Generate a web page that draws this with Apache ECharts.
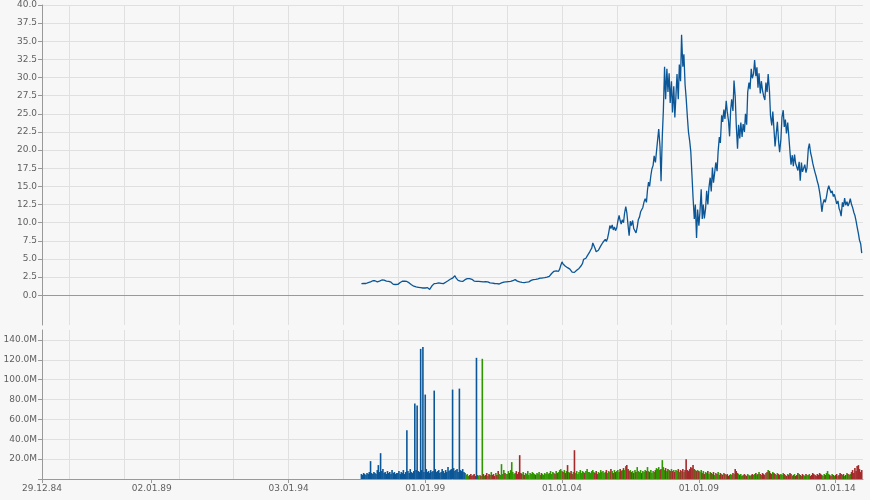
<!DOCTYPE html>
<html><head><meta charset="utf-8">
<script src="https://cdn.jsdelivr.net/npm/echarts@6/dist/echarts.min.js"></script>
<style>html,body{margin:0;padding:0;background:#f7f7f7}#c{width:870px;height:500px}</style>
</head><body><div id="c"></div>
<script>
// Semi-monthly samples (1st and 15th of each month), Sep 1996 .. Dec 2014
const firstYear = 1996, firstMonth = 9;
const priceValues = [
// 1996 (Sep-Dec)
1.6,1.6,1.62,1.6,1.62,1.6,1.75,1.8,
// 1997
1.85,1.9,2.0,2.05,2.0,1.95,1.85,1.85,1.95,2.05,2.1,2.0,2.08,2.05,1.95,2.0,1.92,1.9,1.8,1.6,1.5,1.45,1.48,1.5,
// 1998
1.5,1.6,1.75,1.85,1.93,1.9,1.95,1.88,1.9,1.8,1.7,1.65,1.45,1.3,1.25,1.3,1.15,1.05,1.1,1.0,1.05,1.1,1.0,1.05,
// 1999
1.0,0.95,1.05,0.9,0.8,1.0,1.3,1.5,1.6,1.55,1.65,1.6,1.7,1.6,1.65,1.7,1.6,1.75,1.8,1.9,2.0,2.1,2.2,2.3,
// 2000
2.35,2.5,2.7,2.4,2.2,2.05,2.1,1.95,2.0,1.9,2.0,2.15,2.2,2.3,2.35,2.3,2.25,2.2,2.05,1.95,1.85,1.9,1.85,1.9,
// 2001
1.9,1.88,1.92,1.85,1.9,1.88,1.8,1.85,1.75,1.7,1.72,1.68,1.65,1.62,1.65,1.6,1.55,1.55,1.6,1.7,1.78,1.82,1.8,1.85,
// 2002
1.85,1.88,1.85,1.9,1.95,2.0,2.1,2.15,2.05,1.95,1.9,1.85,1.8,1.78,1.8,1.75,1.78,1.8,1.82,1.85,1.95,2.05,2.1,2.15,
// 2003
2.2,2.18,2.22,2.25,2.3,2.35,2.3,2.38,2.4,2.42,2.45,2.5,2.55,2.6,2.8,3.0,3.2,3.3,3.25,3.35,3.2,3.3,3.6,4.1,
// 2004
4.6,4.3,4.45,4.0,4.2,3.8,3.9,3.6,3.4,3.2,3.3,3.15,3.25,3.45,3.6,3.7,3.9,4.1,4.4,4.95,4.8,5.1,5.4,5.6,
// 2005
5.9,6.2,6.5,7.2,7.4,6.5,6.0,5.9,6.2,6.4,6.8,7.0,7.3,7.5,7.7,7.4,7.9,8.6,9.6,9.2,9.7,9.0,9.4,8.9,
// 2006
9.3,10.2,11.0,10.3,9.8,10.4,10.0,11.3,12.2,11.4,9.6,8.2,10.2,9.6,10.3,9.2,9.3,8.6,9.4,10.4,10.8,11.5,11.4,12.1,
// 2007
12.9,13.3,12.8,14.5,15.6,15.0,16.5,17.4,17.9,19.2,18.3,19.8,21.5,22.9,20.5,15.7,22.0,25.5,31.5,27.0,31.2,28.0,30.6,26.5,
// 2008
29.5,25.2,28.8,24.5,27.5,30.5,27.0,31.8,29.5,35.9,31.5,33.2,29.0,27.2,24.5,22.5,21.2,19.8,16.5,13.5,10.5,12.5,7.9,11.8,
// 2009
9.6,11.4,14.6,10.5,12.5,10.6,12.0,14.4,12.5,14.8,16.2,14.3,17.6,15.5,17.0,18.3,17.1,19.8,21.8,21.0,24.8,23.9,25.6,24.3,
// 2010
26.8,25.3,24.0,21.9,25.5,27.0,25.4,29.6,27.4,23.5,20.2,23.5,21.6,23.8,21.8,23.6,22.5,25.0,23.5,28.0,29.3,28.4,31.2,29.9,
// 2011
30.5,32.4,30.2,31.4,28.6,30.6,27.8,29.5,28.2,27.5,26.9,29.3,28.0,30.5,28.2,24.8,23.4,25.3,22.8,20.5,22.4,23.9,21.2,19.7,
// 2012
21.5,24.5,25.5,23.2,24.2,22.3,23.8,22.0,19.8,18.0,19.3,17.8,19.4,18.2,18.0,17.2,18.4,15.8,18.3,17.0,17.2,18.0,16.9,17.6,
// 2013
20.2,20.9,19.6,19.0,18.2,17.6,16.9,16.4,15.7,15.2,14.2,13.2,11.5,12.6,13.2,12.8,13.6,14.5,15.1,14.6,14.1,14.4,13.6,13.9,
// 2014
13.2,12.6,13.0,12.0,11.6,10.9,12.8,12.2,13.4,12.4,12.9,12.3,12.7,13.3,12.5,12.1,11.4,11.0,10.2,9.4,8.5,7.6,7.1,5.8
];
// volume in millions
const volumeValues = [
5,4,6,5,4,6,5,7,
18,6,5,7,6,5,9,14,7,26,8,10,6,7,5,8,6,7,5,9,6,7,5,6,
6,8,5,7,6,9,5,7,49,8,6,10,7,6,8,76,9,74,8,7,131,9,133,7,
85,10,7,8,6,9,7,8,89,10,7,8,9,6,7,10,8,6,9,7,12,8,9,10,
90,11,8,9,10,7,91,9,8,10,7,6,4,5,3,4,5,3,4,5,3,122,4,3,
4,3,121,5,3,4,6,3,5,4,7,4,5,3,6,4,8,5,4,15,5,9,6,5,
5,8,6,9,17,7,5,6,8,5,7,24,6,5,7,4,6,5,8,4,6,5,7,6,
5,4,6,5,7,4,6,5,4,6,5,7,5,6,8,5,7,6,5,8,6,7,9,10,
8,7,9,6,8,14,7,6,8,5,7,29,6,8,5,7,9,6,8,7,6,8,10,7,
7,6,8,9,7,6,8,5,7,6,9,7,8,6,7,9,6,8,7,10,8,6,9,7,
8,9,7,10,8,9,11,9,13,14,10,8,9,7,8,6,9,7,12,8,7,9,6,8,
7,9,8,12,8,7,9,6,8,7,9,11,10,12,9,10,19,12,9,11,8,10,9,8,
10,8,9,7,9,8,10,7,9,8,10,7,9,20,9,8,10,12,11,14,10,9,8,9,
8,7,9,6,8,5,7,6,8,5,7,6,5,7,4,6,5,7,4,6,5,4,6,5,
4,5,3,4,5,4,6,5,10,8,6,5,4,5,3,4,5,4,3,5,4,3,4,5,
4,5,6,4,5,7,5,4,6,5,4,6,7,9,8,6,5,7,6,5,4,6,5,4,
5,4,6,5,4,3,5,4,6,5,3,4,5,3,4,6,5,4,3,5,4,3,5,4,
4,5,3,4,6,5,4,3,5,4,6,5,4,3,5,4,6,8,5,4,3,5,4,3,
4,5,3,4,6,5,4,5,3,4,6,5,4,5,7,9,6,11,8,13,14,10,7,9
];
const unchangedUntil = 92;          // early samples without direction (blue)
const unchangedExtra = [101];        // later sample without direction
const xLabelDates = ['1984-12-29','1989-01-02','1994-01-03','1999-01-01','2004-01-01','2009-01-01','2014-01-01'];
const gridYears = [1986,1988,1990,1992,1994,1996,1998,2000,2002,2004,2006,2008,2010,2012,2014];
const priceTicks = [0,2.5,5,7.5,10,12.5,15,17.5,20,22.5,25,27.5,30,32.5,35,37.5,40];
const volumeTicks = [20,40,60,80,100,120,140];
const xStart = '1984-12-29', xEnd = '2015-01-01';

const ts = s => { const p = s.split('-').map(Number); return Date.UTC(p[0], p[1]-1, p[2]); };
const sampleTs = priceValues.map((_, k) => {
  const m = (firstMonth - 1) + Math.floor(k / 2);
  return Date.UTC(firstYear + Math.floor(m / 12), m % 12, k % 2 ? 15 : 1);
});
const BLUE = '#0b5697', GREEN = '#2f9600', RED = '#a3292b';
const volColor = k => {
  if (k < unchangedUntil || unchangedExtra.includes(k)) return BLUE;
  return priceValues[k] >= priceValues[k-1] ? GREEN : RED;
};
const pad = n => (n < 10 ? '0' : '') + n;
const fmtDate = v => { const d = new Date(v); return pad(d.getUTCDate()) + '.' + pad(d.getUTCMonth()+1) + '.' + pad(d.getUTCFullYear() % 100); };

const gridTs = gridYears.map(y => Date.UTC(y, 0, 1));
const labelTs = xLabelDates.map(ts);
const xmin = ts(xStart), xmax = ts(xEnd);
const FONT = 'DejaVu Sans';
const axisGray = '#999999', gridGray = '#e0e0e0', textGray = '#5f5f5f';

const chart = echarts.init(document.getElementById('c'), null, {renderer: 'canvas'});
chart.setOption({
  backgroundColor: '#f7f7f7',
  animation: false,
  grid: [
    {left: 42, right: 7, top: 5, height: 320},
    {left: 42, right: 7, top: 330, height: 149}
  ],
  xAxis: [
    {gridIndex: 0, type: 'value', min: xmin, max: xmax,
     axisLine: {show: true, onZero: true, lineStyle: {color: axisGray}},
     axisTick: {show: false, customValues: gridTs},
     axisLabel: {show: false},
     splitLine: {show: true, lineStyle: {color: gridGray}}},
    {gridIndex: 1, type: 'value', min: xmin, max: xmax,
     axisLine: {show: true, lineStyle: {color: axisGray}},
     axisTick: {show: false, customValues: gridTs},
     axisLabel: {show: false},
     splitLine: {show: true, lineStyle: {color: gridGray}}},
    {gridIndex: 1, type: 'value', min: xmin, max: xmax, position: 'bottom',
     axisLine: {show: false},
     axisTick: {show: true, customValues: labelTs, length: 4, lineStyle: {color: axisGray}},
     axisLabel: {show: true, customValues: labelTs, formatter: fmtDate, color: textGray, fontFamily: FONT, fontSize: 9, margin: 5},
     splitLine: {show: false}}
  ],
  yAxis: [
    {gridIndex: 0, type: 'value', min: -4.1, max: 40,
     axisLine: {show: true, onZero: false, lineStyle: {color: axisGray}},
     axisTick: {show: true, customValues: priceTicks, length: 4, lineStyle: {color: axisGray}},
     axisLabel: {customValues: priceTicks, formatter: v => v.toFixed(1), color: textGray, fontFamily: FONT, fontSize: 9, margin: 5},
     splitLine: {show: true, lineStyle: {color: gridGray}}},
    {gridIndex: 1, type: 'value', min: 0, max: 150,
     axisLine: {show: true, onZero: false, lineStyle: {color: axisGray}},
     axisTick: {show: true, customValues: [0].concat(volumeTicks), length: 4, lineStyle: {color: axisGray}},
     axisLabel: {customValues: volumeTicks, formatter: v => v.toFixed(1) + 'M', color: textGray, fontFamily: FONT, fontSize: 9, margin: 5},
     splitLine: {show: true, lineStyle: {color: gridGray}}}
  ],
  series: [
    {type: 'line', xAxisIndex: 0, yAxisIndex: 0, showSymbol: false, symbol: 'none',
     lineStyle: {color: BLUE, width: 1.3},
     data: priceValues.map((v, k) => [sampleTs[k], v])},
    {type: 'bar', xAxisIndex: 1, yAxisIndex: 1, barWidth: 1.6,
     data: volumeValues.map((v, k) => ({value: [sampleTs[k], v], itemStyle: {color: volColor(k)}}))}
  ]
});
</script></body></html>
